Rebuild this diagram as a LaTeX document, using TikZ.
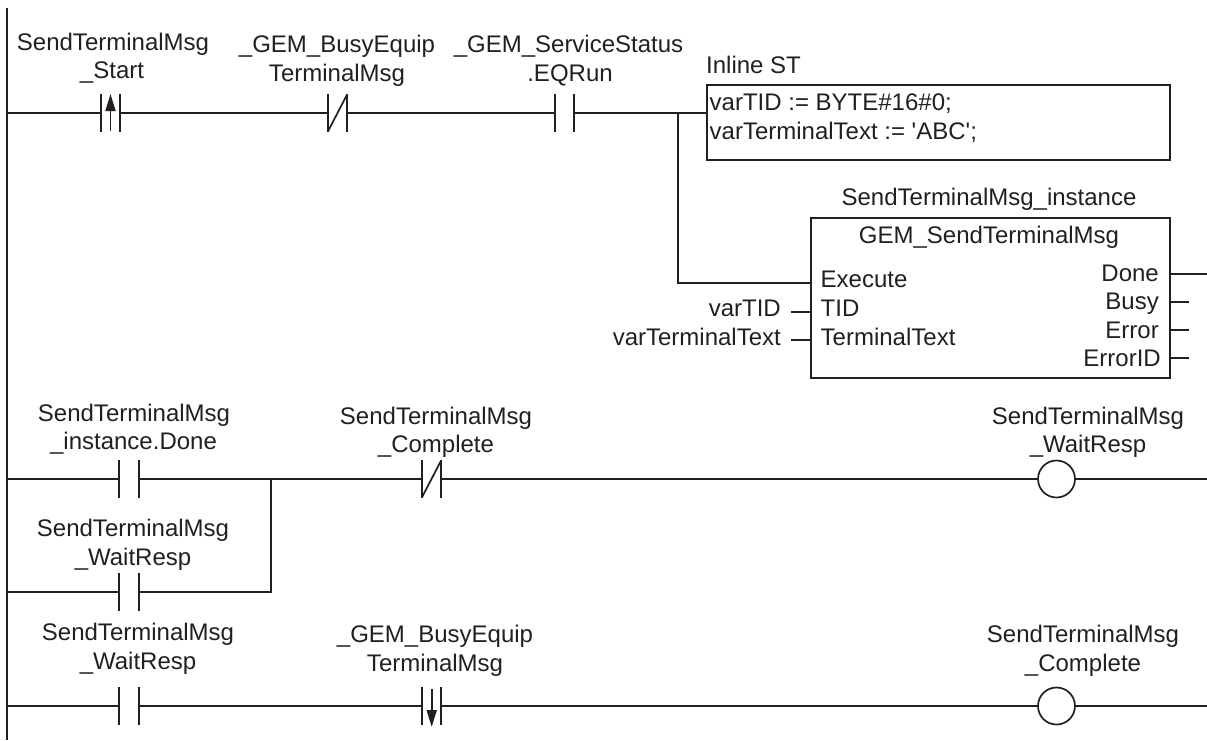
\documentclass[tikz,border=0pt]{standalone}
\usepackage{fontspec}
\setmainfont{Liberation Sans}
\newfontfamily\plainmap{Liberation Sans}
\usetikzlibrary{arrows.meta}
\definecolor{ink}{HTML}{231F20}
\tikzset{
  wire/.style={ink,line width=1.7pt},
  rail/.style={ink,line width=2pt},
  lbl/.style={inner sep=0pt,anchor=base,text=ink,font=\fontsize{24}{28}\selectfont},
  lbll/.style={lbl,anchor=base west},
  lblr/.style={lbl,anchor=base east},
  contactbox/.style={inner sep=0pt,minimum width=19pt,minimum height=37pt},
  fb/.style={draw=ink,line width=1.9pt,inner sep=0pt,anchor=north west},
  coil/.style={draw=ink,line width=1.7pt,circle,inner sep=0pt,minimum size=37pt},
  tip/.style={-{Triangle[length=17pt,width=10pt,sep=0pt]}}
}
% name, x, y
\newcommand{\contactbars}[1]{%
  \draw[wire] (#1.north west)--(#1.south west) (#1.north east)--(#1.south east);}
\newcommand{\nocontact}[3]{\node[contactbox] (#1) at (#2,#3) {};\contactbars{#1}}
\newcommand{\nccontact}[3]{\node[contactbox] (#1) at (#2,#3) {};\contactbars{#1}\draw[wire] (#1.south west)--(#1.north east);}
\begin{document}
\begin{tikzpicture}[x=1pt,y=-1pt]
\useasboundingbox (0,0) rectangle (1207,740);
% power rail
\coordinate (railtop) at (6.5,8);
\coordinate (railbot) at (6.5,740);
\draw[rail] (railtop)--(railbot);
\foreach \n/\y in {ra/113,rb/479,rc/592,rd/706} \coordinate (\n) at (6.5,\y);
\foreach \n/\y in {ea/274,eb/479,ed/706} \coordinate (\n) at (1207,\y);

% rung 1
\nocontact{c1}{110.5}{113}
\nccontact{c2}{337.5}{113}
\nocontact{c3}{564.5}{113}
\node[fb,minimum width=463pt,minimum height=75pt] (st) at (706,84) {};
\node[fb,minimum width=359pt,minimum height=160pt] (gem) at (810,217) {};
\coordinate (c1b) at (110.5,131);
\coordinate (c1t) at (110.5,94);
\draw[wire,tip] (c1b)--(c1t);
\draw[wire] (ra)--(c1.west) (c1.east)--(c2.west) (c2.east)--(c3.west);
\coordinate (stin) at (st.west|-c3);
\draw[wire] (c3.east)--(stin);
\coordinate (jn) at (678,113);
\coordinate (exin) at (gem.west|-0,283);
\coordinate (exc) at (678,283);
\draw[wire] (jn)--(exc)--(exin);
\node[lbl] (t1a) at (113,50) {SendTerminalMsg};
\node[lbl] (t1b) at (112,78) {\_Start};
\node[lbl] (t2a) at (337,52) {\_GEM\_BusyEquip};
\node[lbl] (t2b) at (337,81) {TerminalMsg};
\node[lbl] (t3a) at (568.5,52) {\_GEM\_ServiceStatus};
\node[lbl] (t3b) at (570,81) {.EQRun};
\node[lbll] (stt) at (706,73) {Inline ST};
\node[lbll] (st1) at (709.5,110) {varTID := BYTE\#16\#0;};
\node[lbll] (st2) at (709.5,139) {\plainmap varTerminalText := 'ABC';};
\node[lbl] (inst) at (989,205) {SendTerminalMsg\_instance};
\node[lbl] (gemt) at (989,243) {GEM\_SendTerminalMsg};
\node[lbll] (pex) at (820.5,287) {Execute};
\node[lbll] (ptid) at (820.5,316) {TID};
\node[lbll] (ptt) at (820.5,345) {TerminalText};
\node[lblr] (vtid) at (781,316) {varTID};
\node[lblr] (vtt) at (781,345) {varTerminalText};
\coordinate (vtids) at (791,312);
\coordinate (vtts) at (791,340);
\draw[wire] (vtids)--(gem.west|-vtids) (vtts)--(gem.west|-vtts);
\node[lblr] (pdone) at (1159,281) {Done};
\node[lblr] (pbusy) at (1159,309) {Busy};
\node[lblr] (perr) at (1159,338) {Error};
\node[lblr] (peid) at (1161,366) {ErrorID};
\coordinate (obusy) at (1189,302);
\coordinate (oerr) at (1189,330);
\coordinate (oeid) at (1189,358);
\draw[wire] (gem.east|-ea)--(ea) (gem.east|-obusy)--(obusy) (gem.east|-oerr)--(oerr) (gem.east|-oeid)--(oeid);

% rung 2
\nocontact{c4}{129}{479}
\nccontact{c5}{431.5}{479}
\node[coil] (k1) at (1056.5,479) {};
\nocontact{c6}{129}{592}
\coordinate (jb) at (271,479);
\coordinate (jc) at (271,592);
\draw[wire] (rb)--(c4.west) (c4.east)--(c5.west) (c5.east)--(k1.west) (k1.east)--(eb);
\draw[wire] (rc)--(c6.west) (c6.east)--(jc)--(jb);
\node[lbl] (t4a) at (134,421) {SendTerminalMsg};
\node[lbl] (t4b) at (133.5,449) {\_instance.Done};
\node[lbl] (t5a) at (436,424) {SendTerminalMsg};
\node[lbl] (t5b) at (436,452) {\_Complete};
\node[lbl] (t6a) at (1088,424) {SendTerminalMsg};
\node[lbl] (t6b) at (1088,452) {\_WaitResp};
\node[lbl] (t7a) at (133,536) {SendTerminalMsg};
\node[lbl] (t7b) at (133,565) {\_WaitResp};

% rung 3
\nocontact{c7}{129}{706}
\nocontact{c8}{431.5}{706}
\node[coil] (k2) at (1056.5,706) {};
\draw[wire] (rd)--(c7.west) (c7.east)--(c8.west) (c8.east)--(k2.west) (k2.east)--(ed);
\coordinate (c8t) at (431.7,689);
\coordinate (c8b) at (431.7,727);
\draw[wire,tip] (c8t)--(c8b);
\node[lbl] (t8a) at (138,640) {SendTerminalMsg};
\node[lbl] (t8b) at (138,669) {\_WaitResp};
\node[lbl] (t9a) at (435,642) {\_GEM\_BusyEquip};
\node[lbl] (t9b) at (435,671) {TerminalMsg};
\node[lbl] (t10a) at (1083,642) {SendTerminalMsg};
\node[lbl] (t10b) at (1083,671) {\_Complete};
\end{tikzpicture}
\end{document}
